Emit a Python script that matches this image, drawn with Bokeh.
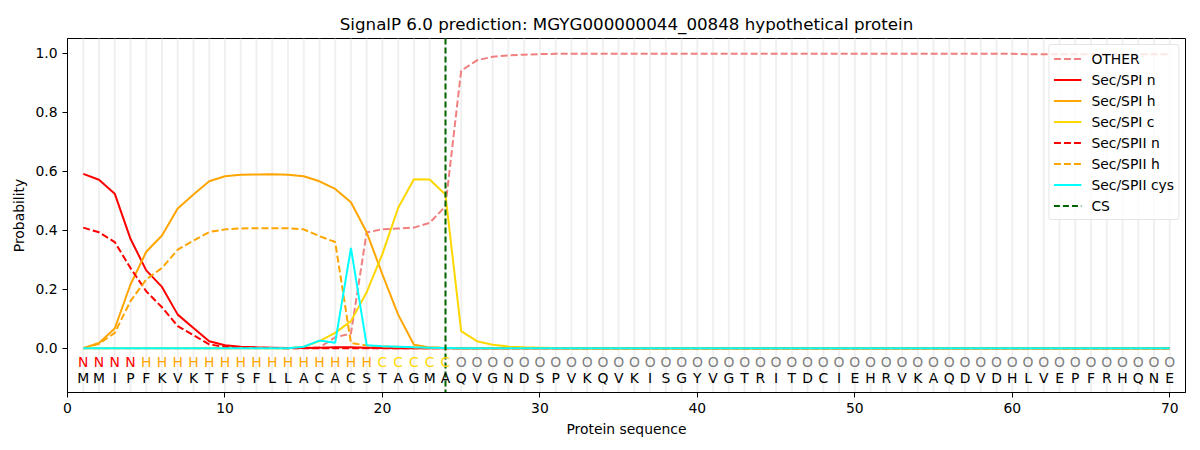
from bokeh.plotting import figure
from bokeh.models import Span, ColumnDataSource, Range1d, FixedTicker, Legend, CustomJSTickFormatter
from bokeh.embed import file_html
from bokeh.resources import INLINE
from bokeh.core.properties import value

sequence = list("MMIPFKVKTFSFLLACACSTAGMAQVGNDSPVKQVKISGYVGTRITDCIEHRVKAQDVDHLVEPFRHQNE")
region_labels = list("NNNN" + "H" * 15 + "C" * 5 + "O" * 46)
positions = list(range(1, len(sequence) + 1))
cs_position = 24

other = [0.0] * 14 + [0.001, 0.003, 0.037, 0.050, 0.393, 0.403, 0.406, 0.409, 0.425, 0.481,
                      0.941, 0.976, 0.988, 0.993, 0.995, 0.997] + [0.998] * 30 + [0.997] * 10
sp1_n = [0.591, 0.571, 0.524, 0.371, 0.264, 0.208, 0.114, 0.069, 0.024, 0.010,
         0.005, 0.003, 0.002, 0.001, 0.001, 0.002, 0.003, 0.003, 0.002, 0.001] + [0.0] * 50
sp1_h = [0.0, 0.018, 0.067, 0.216, 0.327, 0.382, 0.474, 0.521, 0.566, 0.583,
         0.588, 0.589, 0.590, 0.588, 0.583, 0.566, 0.540, 0.495, 0.393, 0.250,
         0.114, 0.012, 0.003, 0.001] + [0.0] * 46
sp1_c = [0.0] * 14 + [0.005, 0.024, 0.052, 0.092, 0.190, 0.320, 0.476, 0.573, 0.572, 0.521,
                      0.058, 0.024, 0.012, 0.006, 0.003, 0.002, 0.001] + [0.0] * 39
sp2_n = [0.409, 0.393, 0.360, 0.272, 0.193, 0.139, 0.075, 0.044, 0.013, 0.005,
         0.002, 0.001, 0.001] + [0.0] * 57
sp2_h = [0.0, 0.015, 0.052, 0.160, 0.233, 0.272, 0.334, 0.365, 0.394, 0.403,
         0.406, 0.407, 0.407, 0.407, 0.403, 0.380, 0.360, 0.018, 0.009, 0.006,
         0.005, 0.003, 0.002, 0.001] + [0.0] * 46
sp2_cys = [0.0] * 14 + [0.005, 0.026, 0.019, 0.340, 0.010, 0.007, 0.005, 0.003, 0.002, 0.001] + [0.0] * 46

region_colors = {"N": "#FF0000", "H": "#FFA500", "C": "#FFD700", "O": "#808080"}

FONT = "DejaVu Sans"
FS = "13.9px"

p = figure(width=1200, height=450, output_backend="svg", toolbar_location=None,
           x_range=Range1d(0, 71), y_range=Range1d(-0.15, 1.05),
           title="SignalP 6.0 prediction: MGYG000000044_00848 hypothetical protein",
           min_border_left=67, min_border_right=15, min_border_top=38, min_border_bottom=58)
p.title.align = "center"
p.title.text_font = FONT
p.title.text_font_size = "16.7px"
p.title.text_font_style = "normal"
p.title.text_color = "black"
p.title.offset = 0

p.xgrid.visible = False
p.ygrid.visible = False
p.outline_line_color = "black"
p.outline_line_width = 1

for ax in (p.xaxis, p.yaxis):
    ax.major_label_text_font = FONT
    ax.major_label_text_font_size = FS
    ax.major_label_text_color = "black"
    ax.axis_label_text_font = FONT
    ax.axis_label_text_font_size = FS
    ax.axis_label_text_font_style = "normal"
    ax.axis_label_text_color = "black"
    ax.minor_tick_line_color = None
    ax.major_tick_out = 5
    ax.major_tick_in = 0
    ax.major_tick_line_color = "black"
    ax.axis_line_color = "black"
p.xaxis.axis_label = "Protein sequence"
p.yaxis.axis_label = "Probability"
p.xaxis.ticker = FixedTicker(ticks=[0, 10, 20, 30, 40, 50, 60, 70])
p.yaxis.ticker = FixedTicker(ticks=[0.0, 0.2, 0.4, 0.6, 0.8, 1.0])
p.yaxis.formatter = CustomJSTickFormatter(code="return tick.toFixed(1);")

for pos in positions:
    p.add_layout(Span(location=pos, dimension="height", line_color="#F0F0F0",
                      line_width=2, level="underlay"))

dash = "7 3"
r_other = p.line(positions, other, line_color="#F08080", line_width=2, line_dash=dash)
r1n = p.line(positions, sp1_n, line_color="#FF0000", line_width=2)
r1h = p.line(positions, sp1_h, line_color="#FFA500", line_width=2)
r1c = p.line(positions, sp1_c, line_color="#FFD700", line_width=2)
r2n = p.line(positions, sp2_n, line_color="#FF0000", line_width=2, line_dash=dash)
r2h = p.line(positions, sp2_h, line_color="#FFA500", line_width=2, line_dash=dash)
r2c = p.line(positions, sp2_cys, line_color="#00FFFF", line_width=2)

r_cs = p.vspan(x=[cs_position], line_color="#006400", line_width=2, line_dash="6 3")

label_src = ColumnDataSource(dict(
    x=positions,
    y=[-0.047] * len(positions),
    t=region_labels,
    c=[region_colors[r] for r in region_labels],
))
p.text(x="x", y="y", text="t", text_color="c", source=label_src,
       text_align="center", text_baseline="middle",
       text_font=value(FONT), text_font_size=FS)
seq_src = ColumnDataSource(dict(x=positions, y=[-0.102] * len(positions), t=sequence))
p.text(x="x", y="y", text="t", text_color="black", source=seq_src,
       text_align="center", text_baseline="middle",
       text_font=value(FONT), text_font_size=FS)

legend = Legend(items=[
    ("OTHER", [r_other]), ("Sec/SPI n", [r1n]), ("Sec/SPI h", [r1h]), ("Sec/SPI c", [r1c]),
    ("Sec/SPII n", [r2n]), ("Sec/SPII h", [r2h]), ("Sec/SPII cys", [r2c]), ("CS", [r_cs]),
], location="top_right")
legend.label_text_font = FONT
legend.label_text_font_size = FS
legend.label_text_color = "black"
legend.label_height = 19
legend.glyph_height = 19
legend.glyph_width = 28
legend.label_standoff = 10
legend.spacing = 2
legend.padding = 4
legend.margin = 6
legend.border_line_color = "#CCCCCC"
legend.border_radius = 3
legend.background_fill_alpha = 0.8
p.add_layout(legend)

open("out.html", "w").write(file_html(p, INLINE))
